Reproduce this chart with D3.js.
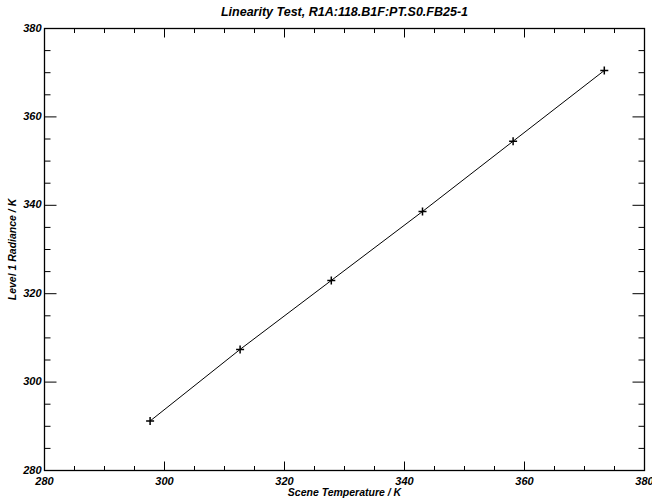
<!DOCTYPE html>
<html>
<head>
<meta charset="utf-8">
<script src="https://cdn.jsdelivr.net/npm/d3@7"></script>
<style>
  body { margin: 0; background: #fff; }
  svg text { font-family: "Liberation Sans", Arial, sans-serif; font-weight: bold; font-style: italic; fill: #000; }
</style>
</head>
<body>
<div id="chart"></div>
<script>
// data
const sceneTemp = [297.6, 312.6, 327.8, 343.0, 358.1, 373.3]
const radiance = [291.2, 307.4, 323.0, 338.6, 354.5, 370.5]
const xTicks = [280, 300, 320, 340, 360, 380]
const yTicks = [280, 300, 320, 340, 360, 380]

const W = 652, H = 499
const margin = { top: 28.5, right: 7.5, bottom: 28.5, left: 44.5 },
    width = W - margin.left - margin.right,
    height = H - margin.top - margin.bottom

const svg = d3.select("#chart")
    .append("svg")
    .attr("width", W)
    .attr("height", H)

const g = svg.append("g")
    .attr("transform", `translate(${margin.left},${margin.top})`)

const x = d3.scaleLinear().domain([280, 380]).range([0, width])
const y = d3.scaleLinear().domain([280, 380]).range([height, 0])

// minor ticks every 5 units
const minor = d3.range(280, 381, 5).filter(v => v % 20 !== 0)

// x ticks (bottom and top), length ~2% of plot height
const xLen = 9, yLen = 12
function xTickMarks(y0, dir) {
    g.selectAll(null).data(xTicks).join("line")
        .attr("x1", d => x(d)).attr("x2", d => x(d))
        .attr("y1", y0).attr("y2", y0 + dir * xLen)
        .attr("stroke", "#000").attr("stroke-width", 1)
    g.selectAll(null).data(minor).join("line")
        .attr("x1", d => x(d)).attr("x2", d => x(d))
        .attr("y1", y0).attr("y2", y0 + dir * xLen / 2)
        .attr("stroke", "#000").attr("stroke-width", 1)
}
xTickMarks(height, -1)
xTickMarks(0, 1)

function yTickMarks(x0, dir) {
    g.selectAll(null).data(yTicks).join("line")
        .attr("y1", d => y(d)).attr("y2", d => y(d))
        .attr("x1", x0).attr("x2", x0 + dir * yLen)
        .attr("stroke", "#000").attr("stroke-width", 1)
    g.selectAll(null).data(minor).join("line")
        .attr("y1", d => y(d)).attr("y2", d => y(d))
        .attr("x1", x0).attr("x2", x0 + dir * yLen / 2)
        .attr("stroke", "#000").attr("stroke-width", 1)
}
yTickMarks(0, 1)
yTickMarks(width, -1)

// frame
g.append("rect")
    .attr("width", width).attr("height", height)
    .attr("fill", "none").attr("stroke", "#000").attr("stroke-width", 1.3)

// tick labels
g.selectAll(null).data(xTicks).join("text")
    .attr("x", d => x(d)).attr("y", height + 14)
    .attr("text-anchor", "middle").attr("font-size", 11)
    .text(d => d)

g.selectAll(null).data(yTicks).join("text")
    .attr("x", -3).attr("y", d => y(d) + 3)
    .attr("text-anchor", "end").attr("font-size", 11)
    .text(d => d)

// data line + plus markers
const pts = sceneTemp.map((t, i) => [t, radiance[i]])
g.append("path")
    .datum(pts)
    .attr("fill", "none").attr("stroke", "#000").attr("stroke-width", 1)
    .attr("d", d3.line().x(d => x(d[0])).y(d => y(d[1])))

g.selectAll(null).data(pts).join("path")
    .attr("transform", d => `translate(${x(d[0])},${y(d[1])})`)
    .attr("d", "M-4,0H4M0,-4V4")
    .attr("stroke", "#000").attr("stroke-width", 1.5)

// titles
svg.append("text")
    .attr("x", margin.left + width / 2).attr("y", 16)
    .attr("text-anchor", "middle").attr("font-size", 12.5)
    .text("Linearity Test, R1A:118.B1F:PT.S0.FB25-1")

svg.append("text")
    .attr("x", margin.left + width / 2).attr("y", 496)
    .attr("text-anchor", "middle").attr("font-size", 10.5)
    .text("Scene Temperature / K")

svg.append("text")
    .attr("transform", `translate(16,${margin.top + height / 2}) rotate(-90)`)
    .attr("text-anchor", "middle").attr("font-size", 10.5)
    .text("Level 1 Radiance / K")
</script>
</body>
</html>
